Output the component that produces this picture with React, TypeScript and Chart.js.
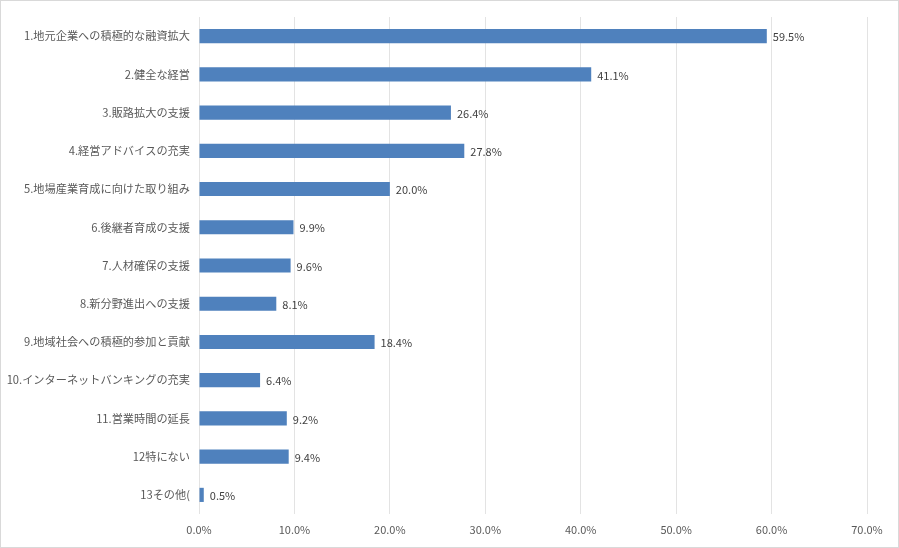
import React, { useEffect, useRef } from "react";
import { Chart, registerables } from "chart.js";

Chart.register(...registerables);

const categories = [
  "1.地元企業への積極的な融資拡大",
  "2.健全な経営",
  "3.販路拡大の支援",
  "4.経営アドバイスの充実",
  "5.地場産業育成に向けた取り組み",
  "6.後継者育成の支援",
  "7.人材確保の支援",
  "8.新分野進出への支援",
  "9.地域社会への積極的参加と貢献",
  "10.インターネットバンキングの充実",
  "11.営業時間の延長",
  "12特にない",
  "13その他(",
];

const values = [59.5, 41.1, 26.4, 27.8, 20.0, 9.9, 9.6, 8.1, 18.4, 6.4, 9.2, 9.4, 0.5];

const xTicks = [0, 10, 20, 30, 40, 50, 60, 70];

const FONT = "'Noto Sans CJK JP', 'Noto Sans', sans-serif";

const framePlugin = {
  id: "frame",
  beforeDraw(chart: any) {
    const { ctx, width, height } = chart;
    ctx.save();
    ctx.fillStyle = "#ffffff";
    ctx.fillRect(0, 0, width, height);
    ctx.strokeStyle = "#d9d9d9";
    ctx.lineWidth = 1;
    ctx.strokeRect(0.5, 0.5, width - 1, height - 1);
    ctx.restore();
  },
};

const valueLabelPlugin = {
  id: "valueLabels",
  afterDatasetsDraw(chart: any) {
    const { ctx } = chart;
    const meta = chart.getDatasetMeta(0);
    ctx.save();
    ctx.font = `11px ${FONT}`;
    ctx.fillStyle = "#404040";
    ctx.textAlign = "left";
    ctx.textBaseline = "middle";
    meta.data.forEach((bar: any, i: number) => {
      ctx.fillText(values[i].toFixed(1) + "%", bar.x + 6, bar.y + 1);
    });
    ctx.restore();
  },
};

export default function App() {
  const ref = useRef<HTMLCanvasElement | null>(null);

  useEffect(() => {
    document.body.style.margin = "0";
    const canvas = ref.current;
    if (!canvas) return;
    const chart = new Chart(canvas, {
      type: "bar",
      data: {
        labels: categories,
        datasets: [
          {
            data: values,
            backgroundColor: "#4f81bd",
            borderWidth: 0,
            barPercentage: 0.74,
            categoryPercentage: 0.5,
          },
        ],
      },
      options: {
        indexAxis: "y",
        responsive: false,
        animation: false,
        layout: { padding: { top: 17, right: 32, bottom: 0, left: 0 } },
        plugins: {
          legend: { display: false },
          tooltip: { enabled: false },
        },
        scales: {
          x: {
            min: 0,
            max: 70,
            afterBuildTicks: (scale: any) => {
              scale.ticks = xTicks.map((v) => ({ value: v }));
            },
            afterFit: (scale: any) => {
              scale.height = 34;
            },
            border: { display: false },
            grid: { color: "#e3e3e3", drawTicks: false },
            ticks: {
              padding: 9,
              color: "#595959",
              font: { family: FONT, size: 11 },
              callback: (v: any) => Number(v).toFixed(1) + "%",
            },
          },
          y: {
            afterFit: (scale: any) => {
              scale.width = 199;
            },
            border: { display: false },
            grid: { display: false, drawTicks: false },
            ticks: {
              padding: 9,
              color: "#595959",
              font: { family: FONT, size: 11.2 },
            },
          },
        },
      },
      plugins: [framePlugin, valueLabelPlugin],
    });
    return () => chart.destroy();
  }, []);

  return <canvas ref={ref} width={899} height={548} style={{ display: "block" }} />;
}
